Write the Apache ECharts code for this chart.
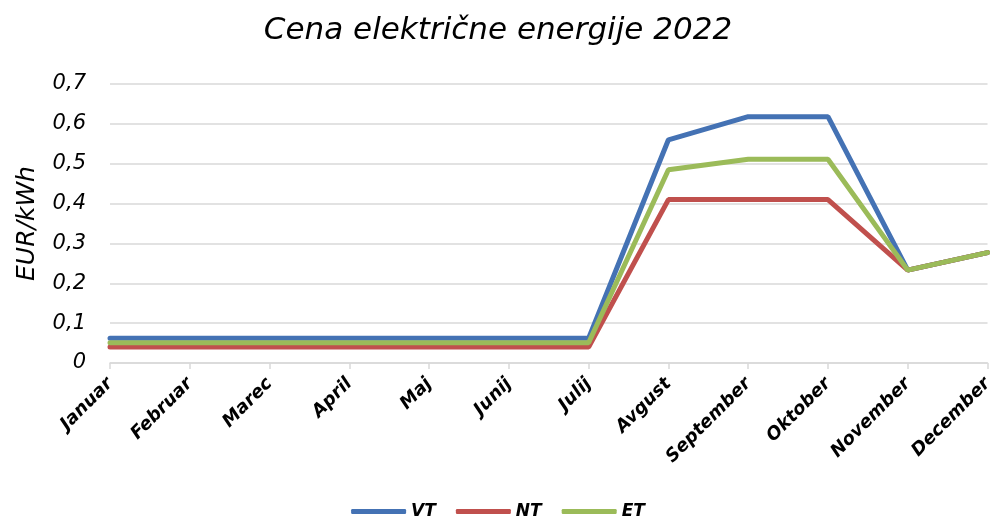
<!DOCTYPE html>
<html>
<head>
<meta charset="utf-8">
<script src="https://cdn.jsdelivr.net/npm/echarts@6/dist/echarts.min.js"></script>
<style>
	html, body { margin: 0; padding: 0; background: #fff; }
	#main { width: 996px; height: 529px; }
</style>
</head>
<body>
<div id="main"></div>
<script>
// podatki
var meseci = ['Januar', 'Februar', 'Marec', 'April', 'Maj', 'Junij', 'Julij', 'Avgust', 'September', 'Oktober', 'November', 'December'];
var vt = [0.062, 0.062, 0.062, 0.062, 0.062, 0.062, 0.062, 0.56, 0.618, 0.618, 0.233, 0.277];
var nt = [0.04, 0.04, 0.04, 0.04, 0.04, 0.04, 0.04, 0.41, 0.41, 0.41, 0.233, 0.277];
var et = [0.051, 0.051, 0.051, 0.051, 0.051, 0.051, 0.051, 0.485, 0.511, 0.511, 0.233, 0.277];

var chart = echarts.init(document.getElementById('main'));
var font = '"DejaVu Sans", sans-serif';

var option = {
	animation: false,
	title: {
		text: 'Cena električne energije 2022',
		left: 'center',
		top: 10,
		textStyle: {
			fontFamily: font,
			fontStyle: 'italic',
			fontWeight: 'normal',
			fontSize: 31,
			color: '#000'
		}
	},
	legend: {
		top: 503,
		left: 'center',
		padding: 0,
		itemWidth: 55,
		itemHeight: 5,
		itemGap: 20,
		icon: 'roundRect',
		textStyle: {
			fontFamily: font,
			fontStyle: 'italic',
			fontWeight: 'bold',
			fontSize: 17,
			color: '#000'
		},
		data: ['VT', 'NT', 'ET']
	},
	grid: {
		left: 110,
		right: 5,
		top: 84,
		bottom: 166
	},
	xAxis: {
		type: 'category',
		boundaryGap: false,
		data: meseci,
		axisLine: { lineStyle: { color: '#d9d9d9', width: 1.5 } },
		axisTick: { show: true, length: 6, lineStyle: { color: '#d9d9d9', width: 1.5 } },
		axisLabel: {
			rotate: 45,
			margin: 18,
			fontFamily: font,
			fontStyle: 'italic',
			fontWeight: 'bold',
			fontSize: 18,
			color: '#000'
		}
	},
	yAxis: {
		type: 'value',
		min: 0,
		max: 0.7,
		interval: 0.1,
		name: 'EUR/kWh',
		nameLocation: 'middle',
		nameGap: 70,
		nameTextStyle: {
			fontFamily: font,
			fontStyle: 'italic',
			fontSize: 25,
			color: '#000'
		},
		axisLabel: {
			margin: 24,
			fontFamily: font,
			fontStyle: 'italic',
			fontSize: 21,
			color: '#000',
			formatter: function(v) {
				return String(Math.round(v * 10) / 10).replace('.', ',');
			}
		},
		splitLine: { lineStyle: { color: '#d9d9d9', width: 1.5 } },
		axisLine: { show: false },
		axisTick: { show: false }
	},
	series: [
		{ name: 'VT', type: 'line', data: vt, symbol: 'none', lineStyle: { width: 5, color: '#4472b4', cap: 'round' }, itemStyle: { color: '#4472b4' } },
		{ name: 'NT', type: 'line', data: nt, symbol: 'none', lineStyle: { width: 5, color: '#c0504d', cap: 'round' }, itemStyle: { color: '#c0504d' } },
		{ name: 'ET', type: 'line', data: et, symbol: 'none', lineStyle: { width: 5, color: '#9bbb59', cap: 'round' }, itemStyle: { color: '#9bbb59' } }
	]
};

chart.setOption(option);
window.onresize = function() {
	chart.resize();
};
</script>
</body>
</html>
